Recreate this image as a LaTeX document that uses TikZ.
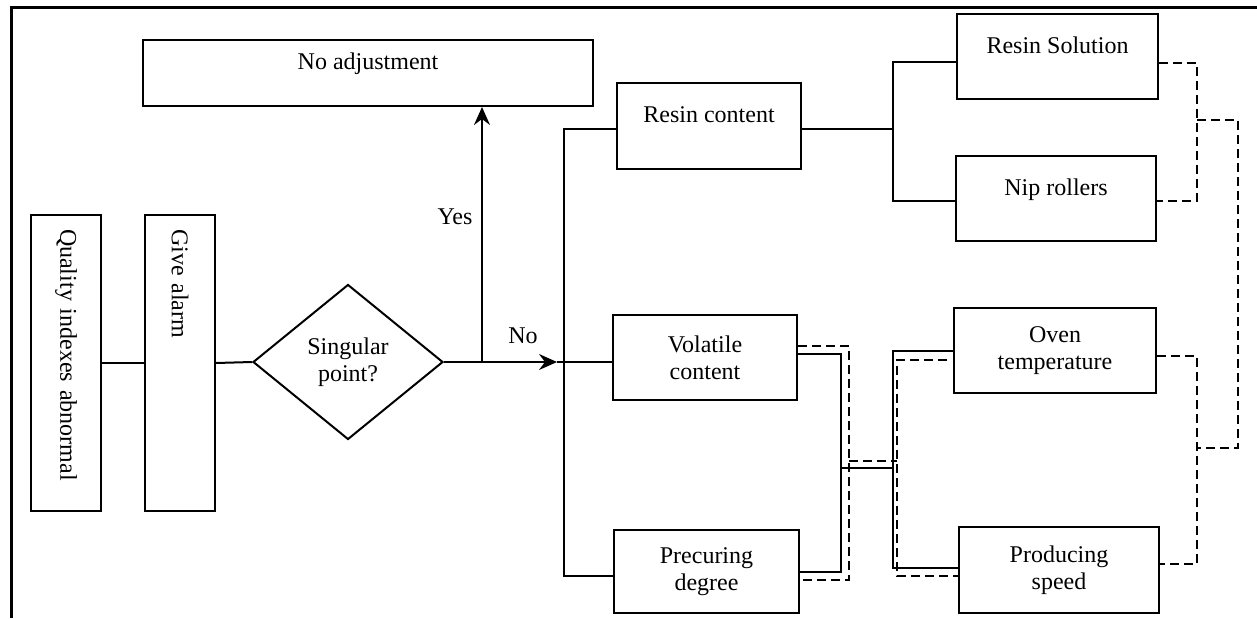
\documentclass[tikz,border=0pt]{standalone}
\usepackage{fontspec}
\setmainfont{Liberation Serif}
\usetikzlibrary{shapes.geometric,arrows.meta}
\begin{document}
\begin{tikzpicture}[x=1pt,y=-1pt,
  box/.style={draw,line width=2pt,inner sep=0pt,font=\fontsize{24}{27}\selectfont,align=center},
  one/.style={text height=16pt,text depth=23pt},
  vbox/.style={box,rotate=-90,minimum width=296pt,minimum height=70pt,text width=268pt,align=left},
  conn/.style={line width=2pt},
  dconn/.style={line width=2pt,dash pattern=on 9pt off 5pt},
  arr/.style={conn,-{Stealth[length=18pt,width=16pt,inset=6pt]}},
  lbl/.style={font=\fontsize{24}{27}\selectfont,inner sep=0pt}]
\useasboundingbox (0,0) rectangle (1257,618);
% frame
\coordinate (f1) at (11,618); \coordinate (f2) at (11,8); \coordinate (f3) at (1257,8);
\draw[line width=3pt] (f1) -- (f2) -- (f3);
% nodes
\node[vbox] (qual) at (66,363) {Quality indexes abnormal};
\node[vbox] (alarm) at (180,363) {Give alarm};
\node[box,diamond,aspect=1.23,minimum width=190pt,minimum height=155pt] (dia) at (348,362) {Singular\\point?};
\node[box,one,minimum width=450pt,minimum height=66pt] (noadj) at (368,73) {No adjustment};
\node[box,one,minimum width=184pt,minimum height=86pt] (resin) at (709,126) {Resin content};
\node[box,minimum width=184pt,minimum height=85pt] (vol) at (705,357.5) {Volatile\\content};
\node[box,minimum width=185pt,minimum height=83pt] (prec) at (706.5,571.5) {Precuring\\degree};
\node[box,one,minimum width=201pt,minimum height=85pt] (sol) at (1057.5,56.5) {Resin Solution};
\node[box,one,minimum width=200pt,minimum height=85pt] (nip) at (1056,198.5) {Nip rollers};
\node[box,minimum width=202pt,minimum height=85pt] (oven) at (1055,350.5) {Oven\\temperature};
\node[box,minimum width=200pt,minimum height=86pt] (speed) at (1059,570) {Producing\\speed};
\node[lbl] (yes) at (455,217) {Yes};
\node[lbl] (no) at (523,336) {No};
% left connectors
\draw[conn] (qual.north) -- (alarm.south);
\draw[conn] (alarm.north) -- (dia.west);
\coordinate (yb) at (482,362);
\coordinate (na) at (557,362);
\coordinate (j) at (564,362);
\draw[arr] (dia.east) -- (na);
\draw[conn] (na) -- (j);
\draw[arr] (yb) -- (yb |- noadj.south);
% trunk
\coordinate (tt) at (564,129); \coordinate (tb) at (564,576);
\draw[conn] (tt -| resin.west) -- (tt) -- (tb) -- (tb -| prec.west);
\draw[conn] (j) -- (j -| vol.west);
% resin branch
\coordinate (rb) at (893,129); \coordinate (rt) at (893,62); \coordinate (rbt) at (893,201);
\draw[conn] (rb -| resin.east) -- (rb);
\draw[conn] (rt -| sol.west) -- (rt) -- (rbt) -- (rbt -| nip.west);
% middle solid
\coordinate (v1) at (841,354); \coordinate (v2) at (841,572); \coordinate (vm) at (841,468);
\coordinate (m1) at (893,468); \coordinate (o1) at (893,351); \coordinate (s1) at (893,568);
\draw[conn] (v1 -| vol.east) -- (v1) -- (v2) -- (v2 -| prec.east);
\draw[conn] (vm) -- (m1);
\draw[conn] (o1 -| oven.west) -- (o1) -- (s1) -- (s1 -| speed.west);
% middle dashed
\coordinate (d1) at (849,346); \coordinate (d2) at (849,580); \coordinate (dm) at (849,461);
\coordinate (dm2) at (897,461); \coordinate (dt) at (897,360); \coordinate (de) at (947,360);
\coordinate (db) at (897,576);
\draw[dconn] (d1 -| vol.east) -- (d1) -- (d2) -- (d2 -| prec.east);
\draw[dconn] (dm) -- (dm2);
\draw[dconn] (de) -- (dt) -- (db) -- (db -| speed.west);
% right dashed
\coordinate (r1) at (1197,63); \coordinate (r2) at (1197,201); \coordinate (rm) at (1197,120);
\coordinate (rr1) at (1238,120); \coordinate (rr2) at (1238,448); \coordinate (rm2) at (1197,448);
\coordinate (r3) at (1197,356); \coordinate (r4) at (1197,564);
\draw[dconn] (r1 -| sol.east) -- (r1) -- (r2) -- (r2 -| nip.east);
\draw[dconn] (rm) -- (rr1) -- (rr2) -- (rm2);
\draw[dconn] (r3 -| oven.east) -- (r3) -- (r4) -- (r4 -| speed.east);
\end{tikzpicture}
\end{document}
